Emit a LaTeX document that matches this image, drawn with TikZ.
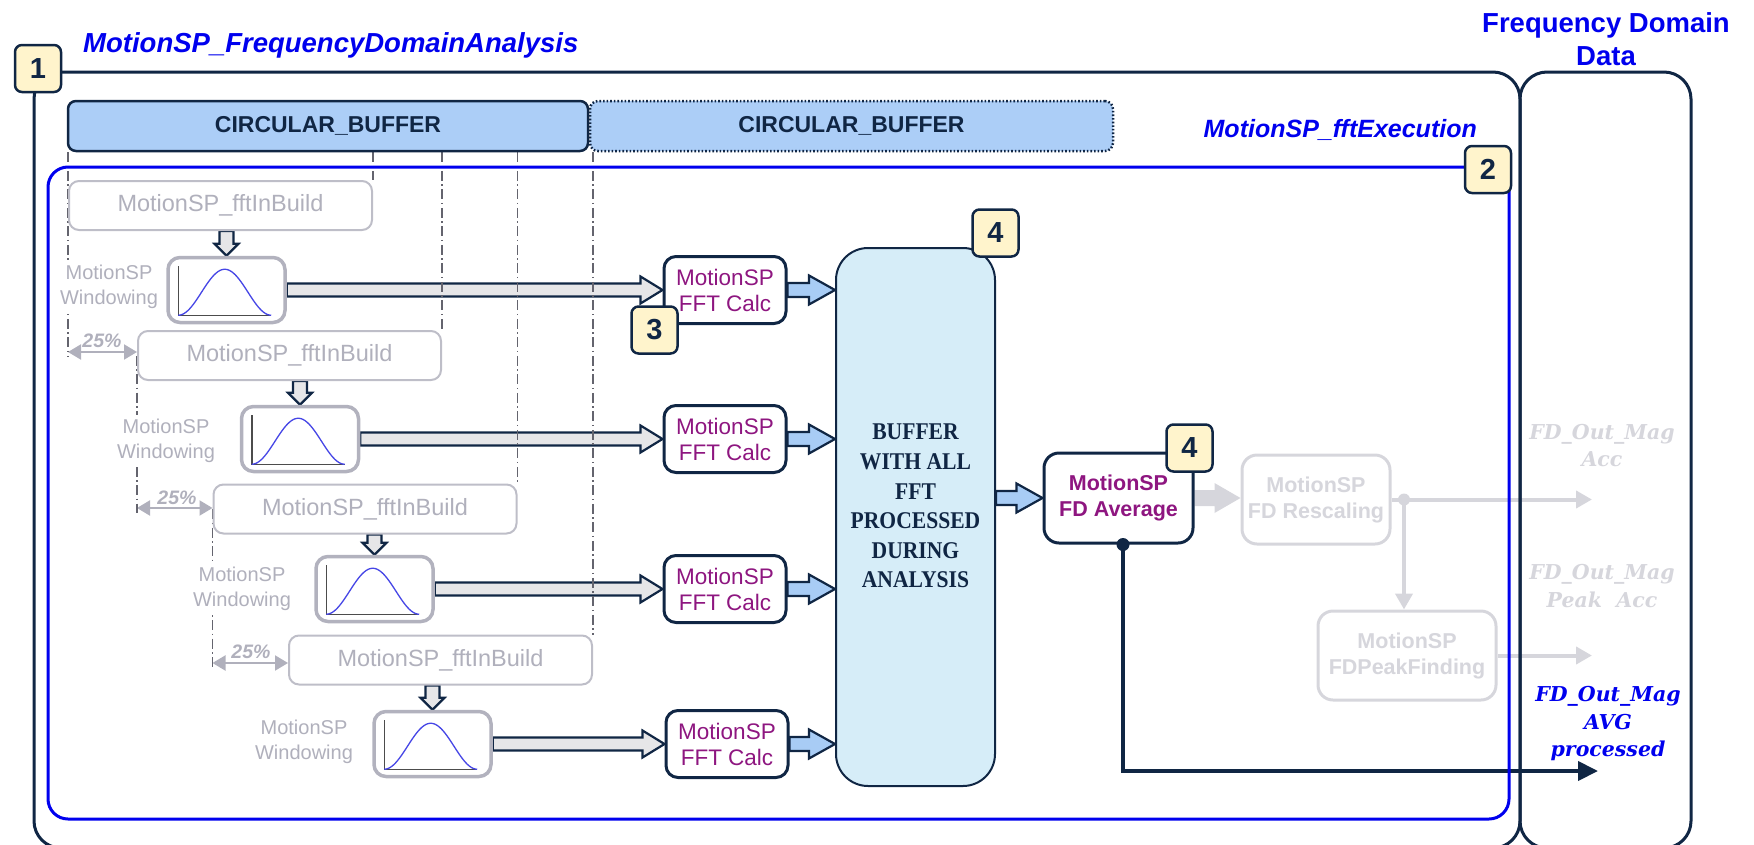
\documentclass[tikz,border=0pt]{standalone}
\usepackage{fontspec}
\setmainfont{Liberation Sans}
\newfontfamily\tnr{Liberation Serif}
\newfontfamily\dvs{DejaVu Serif}
\usetikzlibrary{calc,arrows.meta}

\definecolor{navy}{RGB}{16,38,68}
\definecolor{pureblue}{RGB}{0,0,238}
\definecolor{cbfill}{RGB}{172,206,247}
\definecolor{bigfill}{RGB}{214,237,248}
\definecolor{badgefill}{RGB}{255,244,204}
\definecolor{ghost}{RGB}{176,176,188}
\definecolor{boxgray}{RGB}{190,190,200}
\definecolor{wingray}{RGB}{178,178,190}
\definecolor{faint}{RGB}{214,214,220}
\definecolor{hollow}{RGB}{230,230,232}
\definecolor{arrowblue}{RGB}{168,204,245}
\definecolor{plum}{RGB}{142,22,128}
\definecolor{dashgray}{RGB}{100,100,110}
\definecolor{curveblue}{RGB}{70,70,230}

\newcommand\fsz[2]{\fontsize{#1pt}{#2pt}\selectfont}

% horizontal block arrow: style, from, to, shaft half-width, head half-width, head length
\newcommand\hblock[6]{%
  \draw[#1] let \p1=(#2), \p2=(#3) in
    (\x1,\y1+#4) -- (\x2-#6,\y1+#4) -- (\x2-#6,\y1+#5) -- (\x2,\y1)
    -- (\x2-#6,\y1-#5) -- (\x2-#6,\y1-#4) -- (\x1,\y1-#4) -- cycle;}
% downward block arrow, placed on the x of the target
\newcommand\vblock[6]{%
  \draw[#1] let \p1=(#2), \p2=(#3) in
    (\x2-#4,\y1) -- (\x2-#4,\y2+#6) -- (\x2-#5,\y2+#6) -- (\x2,\y2)
    -- (\x2+#5,\y2+#6) -- (\x2+#4,\y2+#6) -- (\x2+#4,\y1) -- cycle;}
% small window function chart inside a windowing box
\newcommand\windowplot[1]{%
  \begin{scope}[shift={(#1.south west)}]
    \draw[line width=1.5pt, draw=black!70] (12,-58) -- (12,-9) -- (105,-9);
    \draw[curveblue, line width=1.3pt] plot[domain=0:1, samples=50, smooth]
      ({12+93*\x}, {-9-46*(1-cos(360*\x))/2});
  \end{scope}}
% narrow stacked lines for the analysis buffer caption
\newcommand\narrowstack[1]{\scalebox{0.9}[1]{\begin{tabular}{@{}c@{}}#1\end{tabular}}}

\pgfdeclarelayer{flow}
\pgfdeclarelayer{guidelayer}
\pgfsetlayers{flow,guidelayer,main}

\tikzset{
  frame/.style={draw=navy, line width=3pt, rounded corners=27pt, inner sep=0pt},
  execframe/.style={draw=pureblue, line width=3pt, rounded corners=20pt, inner sep=0pt},
  title/.style={text=pureblue, font=\fsz{27.5}{33}\bfseries\itshape, inner sep=0pt},
  fddtitle/.style={text=pureblue, font=\fsz{27.5}{33}\bfseries, align=center, inner sep=0pt},
  cbuf/.style={draw=navy, fill=cbfill, line width=2.5pt, rounded corners=8pt, minimum height=50pt, text=navy, font=\fsz{23}{28}\bfseries, inner sep=0pt},
  inbuild/.style={draw=boxgray, fill=white, line width=2pt, rounded corners=10pt, minimum width=303pt, minimum height=49pt, text=ghost, font=\fsz{23.5}{28}, inner sep=0pt},
  winbox/.style={draw=wingray, fill=white, line width=3.5pt, rounded corners=12pt, minimum width=117pt, minimum height=65pt, inner sep=0pt},
  winlabel/.style={text=ghost, fill=white, font=\fsz{20}{25.5}, align=center, inner sep=4pt},
  pct/.style={text=ghost, font=\fsz{19.5}{22}\bfseries\itshape, inner sep=0pt},
  pctarrow/.style={draw=ghost, line width=2pt, {Triangle[length=13pt,width=15pt]}-{Triangle[length=13pt,width=15pt]}},
  guide/.style={draw=dashgray, line width=1.1pt, dash pattern=on 10pt off 3.5pt on 1.5pt off 3.5pt},
  calcbox/.style={draw=navy, fill=white, line width=3pt, rounded corners=12pt, minimum width=122pt, minimum height=67pt, text=plum, font=\fsz{22.5}{26}, align=center, inner sep=0pt},
  bigbuf/.style={draw=navy, fill=bigfill, line width=2pt, rounded corners=32pt, minimum width=159pt, minimum height=538pt, inner sep=0pt},
  bigtext/.style={text=navy, font=\fsz{24}{29.6}\tnr\bfseries, inner sep=0pt},
  avgbox/.style={draw=navy, fill=white, line width=3pt, rounded corners=15pt, minimum width=149pt, minimum height=90pt, text=plum, font=\fsz{21.5}{26}\bfseries, align=center, inner sep=0pt},
  fadedbox/.style={draw=faint, fill=white, line width=3pt, rounded corners=15pt, minimum height=89pt, text=faint, font=\fsz{21.5}{26}\bfseries, align=center, inner sep=0pt},
  badge/.style={draw=navy, fill=badgefill, line width=2.5pt, rounded corners=7pt, minimum width=46pt, minimum height=47pt, inner sep=0pt, text=navy, font=\fsz{29}{34}\bfseries},
  outfaint/.style={text=faint, font=\fsz{20.5}{27.5}\dvs\bfseries\itshape, align=center, inner sep=0pt},
  outblue/.style={outfaint, text=pureblue},
  hollowarrow/.style={draw=navy, fill=hollow, line width=2.2pt},
  bluearrow/.style={draw=navy, fill=arrowblue, line width=2.2pt},
  fadedarrow/.style={draw=none, fill=faint},
  fadedline/.style={draw=faint, line width=4pt, -{Triangle[length=16pt,width=17pt]}},
  navyline/.style={draw=navy, line width=4pt, -{Triangle[length=20pt,width=19pt]}},
}

\begin{document}
\begin{tikzpicture}[x=1pt,y=-1pt]
\useasboundingbox (0,0) rectangle (1754,844);
\clip (0,0) rectangle (1754,844);

% ---------- frames and titles ----------
\node[frame, minimum width=1486pt, minimum height=776pt] (outer) at (777,460) {};
\node[frame, minimum width=171pt, minimum height=776pt] (fdd) at (1605.5,460) {};
\node[execframe, minimum width=1461pt, minimum height=652pt] (exec) at (778.5,493) {};

\node[title, anchor=west] (tAnalysis) at (83,45) {MotionSP\_FrequencyDomainAnalysis};
\node[title, font=\fsz{25}{30}\bfseries\itshape, anchor=east] (tExec) at (1477,130) {MotionSP\_fftExecution};
\node[fddtitle] (tData) at (1606,39.5) {Frequency Domain\\Data};

% ---------- circular buffers ----------
\node[cbuf, minimum width=520pt] (buf1) at (328,126) {CIRCULAR\_BUFFER};
\node[cbuf, dash pattern=on 1.6pt off 2pt, minimum width=523pt] (buf2) at (851.5,126) {CIRCULAR\_BUFFER};

% ---------- input frames ----------
\node[inbuild] (b0) at (220.5,205.5) {MotionSP\_fftInBuild};
\node[inbuild] (b1) at (289.5,355.5) {MotionSP\_fftInBuild};
\node[inbuild] (b2) at (365,509) {MotionSP\_fftInBuild};
\node[inbuild] (b3) at (440.5,660) {MotionSP\_fftInBuild};

% ---------- windowing ----------
\node[winlabel] (l0) at (109,287) {MotionSP\\Windowing};
\node[winlabel] (l1) at (166,441) {MotionSP\\Windowing};
\node[winlabel] (l2) at (242,589) {MotionSP\\Windowing};
\node[winlabel] (l3) at (304,742) {MotionSP\\Windowing};

\node[winbox] (w0) at (226.5,290) {};
\node[winbox] (w1) at (300,439) {};
\node[winbox] (w2) at (374.5,589) {};
\node[winbox] (w3) at (432.5,744) {};
\windowplot{w0}
\windowplot{w1}
\windowplot{w2}
\windowplot{w3}

% ---------- FFT calculation ----------
\node[calcbox] (c0) at (725,290) {MotionSP\\FFT Calc};
\node[calcbox] (c1) at (725,439) {MotionSP\\FFT Calc};
\node[calcbox] (c2) at (725,589) {MotionSP\\FFT Calc};
\node[calcbox] (c3) at (727,744) {MotionSP\\FFT Calc};

\node[bigbuf] (big) at (915.5,517) {};
\node[bigtext] (bigtxt) at (915.5,508) {\narrowstack{BUFFER\\WITH ALL\\FFT\\PROCESSED\\DURING\\ANALYSIS}};

% ---------- frequency domain post-processing ----------
\node[avgbox] (avg) at (1118.5,498) {MotionSP\\FD Average};
\node[fadedbox, minimum width=148pt] (resc) at (1316,499.5) {MotionSP\\FD Rescaling};
\node[fadedbox, minimum width=178pt] (peak) at (1407,655.5) {MotionSP\\FDPeakFinding};

\node[outfaint] (o1) at (1602,445.5) {FD\_Out\_Mag\\Acc};
\node[outfaint] (o2) at (1602,586) {FD\_Out\_Mag\\Peak\ \ Acc};
\node[outblue] (o3) at (1608,724) {FD\_Out\_Mag\\AVG\\processed};

\coordinate (jn) at (1404,499.5);
\coordinate (accEnd) at (1592,499.5);
\coordinate (tap) at ([xshift=4.5pt]avg.south);
\coordinate (avgOut) at (1598,771);

% ---------- 25% overlap markers ----------
\coordinate (q1a) at (b0.west |- 0,352);
\coordinate (q2a) at (b1.west |- 0,508);
\coordinate (q3a) at (b2.west |- 0,663);
\node[pct] (p1) at (102,341) {25\%};
\node[pct] (p2) at (177,498) {25\%};
\node[pct] (p3) at (251,652) {25\%};

% ---------- badges ----------
\node[badge] (k1) at (38,68.5) {1};
\node[badge] (k2) at (1488,169.5) {2};
\node[badge] (k3) at (654.5,330) {3};
\node[badge] (k4a) at (995.5,233) {4};
\node[badge] (k4b) at (1189.5,448) {4};

% ---------- connectors ----------
\begin{pgfonlayer}{flow}
  \hblock{hollowarrow}{w0.east}{c0.west}{6.5pt}{13.5pt}{22pt}
  \hblock{hollowarrow}{w1.east}{c1.west}{6.5pt}{13.5pt}{22pt}
  \hblock{hollowarrow}{w2.east}{c2.west}{6.5pt}{13.5pt}{22pt}
  \hblock{hollowarrow}{w3.east}{c3.west}{6.5pt}{13.5pt}{22pt}

  \vblock{hollowarrow}{b0.south}{w0.north}{7pt}{12pt}{12pt}
  \vblock{hollowarrow}{b1.south}{w1.north}{7pt}{12pt}{12pt}
  \vblock{hollowarrow}{b2.south}{w2.north}{7pt}{12pt}{12pt}
  \vblock{hollowarrow}{b3.south}{w3.north}{7pt}{12pt}{12pt}

  \hblock{bluearrow}{c0.east}{big.west |- c0.east}{7pt}{14.5pt}{26pt}
  \hblock{bluearrow}{c1.east}{big.west |- c1.east}{7pt}{14.5pt}{26pt}
  \hblock{bluearrow}{c2.east}{big.west |- c2.east}{7pt}{14.5pt}{26pt}
  \hblock{bluearrow}{c3.east}{big.west |- c3.east}{7pt}{14.5pt}{26pt}
  \hblock{bluearrow}{big.east |- avg.west}{avg.west}{7pt}{14.5pt}{26pt}

  \hblock{fadedarrow}{avg.east}{resc.west}{8pt}{15pt}{26pt}
  \draw[fadedline] (resc.east) -- (accEnd);
  \draw[fadedline] (jn) -- (jn |- peak.north);
  \draw[fadedline] (peak.east) -- (peak.east -| accEnd);

  \draw[navyline] (tap) -- (tap |- avgOut) -- (avgOut);

  \draw[pctarrow] (q1a) -- (b1.west |- q1a);
  \draw[pctarrow] (q2a) -- (b2.west |- q2a);
  \draw[pctarrow] (q3a) -- (b3.west |- q3a);
\end{pgfonlayer}

\fill[faint] (jn) circle (6pt);
\fill[navy] (tap) circle (6.5pt);

% ---------- dash-dot guides from the buffer ----------
\begin{pgfonlayer}{guidelayer}
  \draw[guide] (b0.west |- buf1.south) -- ([yshift=-5pt]q1a);
  \draw[guide] (b1.west) -- ([yshift=-5pt]q2a);
  \draw[guide] (b2.west) -- ([yshift=-5pt]q3a);
  \draw[guide] (b0.north east |- buf1.south) -- (b0.north east);
  \draw[guide] (b1.north east |- buf1.south) -- (b1.north east);
  \draw[guide] (b2.north east |- buf1.south) -- (b2.north east);
  \draw[guide] (b3.north east |- buf1.south) -- (b3.north east);
\end{pgfonlayer}
\end{tikzpicture}
\end{document}
